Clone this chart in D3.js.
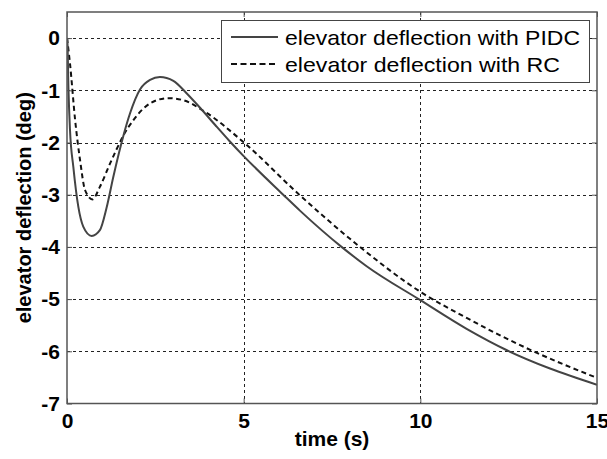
<!DOCTYPE html>
<html>
<head>
<meta charset="utf-8">
<script src="https://cdn.jsdelivr.net/npm/d3@7"></script>
<style>
  body { margin: 0; background: #fff; }
</style>
</head>
<body>
<script>
const width = 607;
const height = 459;
const margin = {top: 12, right: 10, bottom: 55.5, left: 67};

// PIDC response (solid)
const pidcTime = [0, 0.01, 0.04, 0.085, 0.18, 0.32, 0.46, 0.70, 0.93, 1.12, 1.31, 1.6, 1.78, 2.07, 2.35, 2.63, 3.01, 3.39, 3.76, 4.2, 4.61, 5, 6.12, 6.6, 7.77, 8.48, 10, 11.31, 12.45, 13.67, 15];
const pidcValue = [0, -0.04, -0.94, -1.76, -2.47, -3.23, -3.61, -3.79, -3.68, -3.25, -2.66, -1.86, -1.45, -0.98, -0.80, -0.745, -0.82, -1.06, -1.33, -1.67, -1.98, -2.26, -3.0, -3.31, -4.0, -4.37, -5.02, -5.57, -5.98, -6.33, -6.64];
// RC response (dashed)
const rcTime = [0, 0.085, 0.23, 0.37, 0.51, 0.72, 0.93, 1.22, 1.41, 1.6, 1.88, 2.16, 2.54, 2.87, 3.29, 3.9, 4.99, 6.59, 8.29, 10, 11.31, 12.3, 13.3, 15];
const rcValue = [0, -0.49, -1.57, -2.34, -2.91, -3.09, -2.85, -2.40, -2.12, -1.86, -1.57, -1.35, -1.19, -1.15, -1.19, -1.41, -1.99, -3.01, -4.0, -4.86, -5.36, -5.71, -6.03, -6.51];

const xTicks = [0, 5, 10, 15];
const yTicks = [0, -1, -2, -3, -4, -5, -6, -7];
const legendLabels = ["elevator deflection with PIDC", "elevator deflection with RC"];

const pidc = pidcTime.map((t, i) => ({t, v: pidcValue[i]}));
const rc = rcTime.map((t, i) => ({t, v: rcValue[i]}));

const x = d3.scaleLinear().domain([0, 15]).range([margin.left, width - margin.right]);
const y = d3.scaleLinear().domain([-7, 0.5]).range([height - margin.bottom, margin.top]);

const svg = d3.select("body").append("svg")
    .attr("width", width).attr("height", height)
    .style("font-family", "'Liberation Sans', Arial, sans-serif");

svg.append("rect").attr("width", width).attr("height", height).attr("fill", "#fff");

const x0 = x.range()[0], x1 = x.range()[1];
const y0 = y.range()[0], y1 = y.range()[1];

// grid
const grid = svg.append("g").attr("stroke", "#222").attr("stroke-width", 1).attr("stroke-dasharray", "3,3");
grid.selectAll(".gx").data(xTicks.filter(d => d > 0 && d < 15)).join("line")
    .attr("x1", d => Math.round(x(d)) + 0.5).attr("x2", d => Math.round(x(d)) + 0.5)
    .attr("y1", y1).attr("y2", y0);
grid.selectAll(".gy").data(yTicks.filter(d => d > -7)).join("line")
    .attr("x1", x0).attr("x2", x1)
    .attr("y1", d => Math.round(y(d)) + 0.5).attr("y2", d => Math.round(y(d)) + 0.5);

// curves
svg.append("clipPath").attr("id", "clip").append("rect")
    .attr("x", x0).attr("y", y1).attr("width", x1 - x0).attr("height", y0 - y1);

const line = d3.line().x(d => x(d.t)).y(d => y(d.v)).curve(d3.curveMonotoneX);

svg.append("path").datum(rc)
    .attr("clip-path", "url(#clip)")
    .attr("fill", "none").attr("stroke", "#111").attr("stroke-width", 2)
    .attr("stroke-dasharray", "5,3.5")
    .attr("d", line);
svg.append("path").datum(pidc)
    .attr("clip-path", "url(#clip)")
    .attr("fill", "none").attr("stroke", "#444").attr("stroke-width", 2)
    .attr("d", line);

// axes (ticks inside, on all sides); plain hyphen for negatives
const fmt = d => String(d);
const tickLen = 5;
const xAxisB = d3.axisBottom(x).tickValues(xTicks).tickSize(-tickLen).tickPadding(10).tickFormat(fmt).tickSizeOuter(0);
const xAxisT = d3.axisTop(x).tickValues(xTicks).tickSize(-tickLen).tickFormat("").tickSizeOuter(0);
const yAxisL = d3.axisLeft(y).tickValues(yTicks).tickSize(-tickLen).tickPadding(7).tickFormat(fmt).tickSizeOuter(0);
const yAxisR = d3.axisRight(y).tickValues(yTicks).tickSize(-tickLen).tickFormat("").tickSizeOuter(0);

function styleAxis(g) {
  g.select(".domain").remove();
  g.selectAll(".tick line").attr("stroke", "#555").attr("stroke-width", 1);
  g.selectAll(".tick text").attr("fill", "#000").attr("font-size", 21).attr("font-weight", "bold")
      .attr("font-family", "'Liberation Sans', Arial, sans-serif");
}

svg.append("g").attr("transform", `translate(0,${y0})`).call(xAxisB).call(styleAxis);
svg.append("g").attr("transform", `translate(0,${y1})`).call(xAxisT).call(styleAxis);
svg.append("g").attr("transform", `translate(${x0},0)`).call(yAxisL).call(styleAxis);
svg.append("g").attr("transform", `translate(${x1},0)`).call(yAxisR).call(styleAxis);

// frame
svg.append("rect")
    .attr("x", x0).attr("y", y1).attr("width", x1 - x0).attr("height", y0 - y1)
    .attr("fill", "none").attr("stroke", "#555").attr("stroke-width", 1.5);

// axis titles
svg.append("text")
    .attr("x", (x0 + x1) / 2).attr("y", 446)
    .attr("text-anchor", "middle").attr("font-size", 21).attr("font-weight", "bold")
    .text("time (s)");
svg.append("text")
    .attr("transform", `translate(31,${(y0 + y1) / 2}) rotate(-90)`)
    .attr("text-anchor", "middle").attr("font-size", 20).attr("font-weight", "bold")
    .text("elevator deflection (deg)");

// legend
const legend = svg.append("g");
legend.append("rect")
    .attr("x", 221.5).attr("y", 20.5).attr("width", 368).attr("height", 62)
    .attr("fill", "#fff").attr("stroke", "#444").attr("stroke-width", 1);
const rows = [{dash: null, color: "#444", len: 295}, {dash: "6,3.5", color: "#111", len: 275}];
rows.forEach((r, i) => {
  const cy = 37 + i * 27;
  legend.append("line")
      .attr("x1", 231).attr("x2", 278).attr("y1", cy).attr("y2", cy)
      .attr("stroke", r.color).attr("stroke-width", 2)
      .attr("stroke-dasharray", r.dash);
  legend.append("text")
      .attr("x", 285).attr("y", cy + 7.5)
      .attr("font-size", 21)
      .attr("textLength", r.len)
      .attr("lengthAdjust", "spacingAndGlyphs")
      .attr("fill", "#000")
      .text(legendLabels[i]);
});
</script>
</body>
</html>
